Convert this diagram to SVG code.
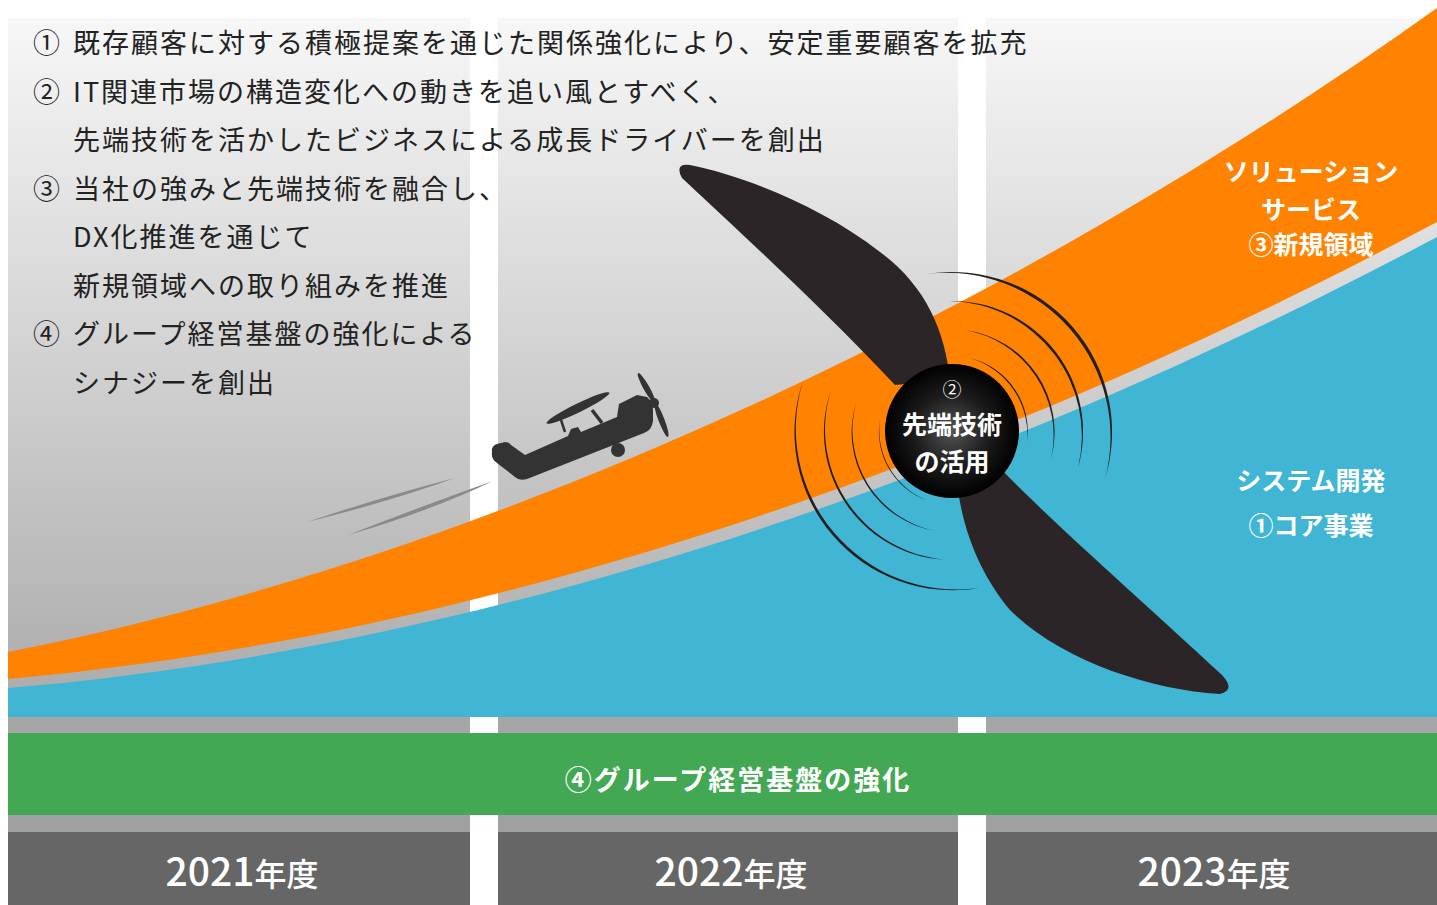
<svg xmlns="http://www.w3.org/2000/svg" width="1437" height="905" viewBox="0 0 1437 905">
  <defs>
    <linearGradient id="bgFade" gradientUnits="userSpaceOnUse" x1="0" y1="18" x2="0" y2="717">
      <stop offset="0" stop-color="#f7f7f7"/>
      <stop offset="1" stop-color="#aaaaaa"/>
    </linearGradient>
    <radialGradient id="hubShade" cx="0.5" cy="0.5" r="0.5">
      <stop offset="0" stop-color="#555555"/>
      <stop offset="0.55" stop-color="#1c1c1c"/>
      <stop offset="1" stop-color="#000000"/>
    </radialGradient>
    <style>
      .col { fill: url(#bgFade); }
      .band1 { fill: #a6a6a6; }
      .band2 { fill: #a0a0a0; }
      .year { fill: #666666; }
      .jp { font-family: "Noto Sans CJK JP", "Noto Sans CJK SC", sans-serif; }
      .lead { font-size: 27px; fill: #222222; letter-spacing: 2px; }
      .num { font-size: 27px; fill: #222222; }
      .label { font-size: 25px; fill: #ffffff; font-weight: 700; text-anchor: middle; }
      .hub { font-size: 25px; fill: #ffffff; font-weight: 700; text-anchor: middle; }
      .yearText { fill: #ffffff; text-anchor: middle; font-weight: 500; }
      .blade { fill: #2c2527; }
      .wave { fill: #231f20; }
      .plane { fill: #333333; }
      .speed { fill: #8a8a8a; }
    </style>
  </defs>

  <rect width="1437" height="905" fill="#ffffff"/>

  <!-- three fiscal-year columns -->
  <g id="columns">
    <rect class="col" x="8" y="18" width="462" height="699"/>
    <rect class="col" x="498" y="18" width="460" height="699"/>
    <rect class="col" x="986" y="18" width="451" height="699"/>
    <rect class="band1" x="8" y="717" width="462" height="16"/>
    <rect class="band1" x="498" y="717" width="460" height="16"/>
    <rect class="band1" x="986" y="717" width="451" height="16"/>
    <rect class="band2" x="8" y="815" width="462" height="17"/>
    <rect class="band2" x="498" y="815" width="460" height="17"/>
    <rect class="band2" x="986" y="815" width="451" height="17"/>
    <rect class="year" x="8" y="832" width="462" height="73"/>
    <rect class="year" x="498" y="832" width="460" height="73"/>
    <rect class="year" x="986" y="832" width="451" height="73"/>
  </g>

  <!-- growth areas -->
  <g id="solution-area">
    <path d="M8,652 C480,560 1000,320 1437,8 L1437,222 C1000,455 500,635 8,679 Z" fill="#ff8200"/>
  </g>
  <g id="core-area">
    <path d="M8,688 C500,647 1000,470 1437,237 L1437,717 L8,717 Z" fill="#40b6d4"/>
  </g>
  <g id="foundation">
    <rect x="8" y="733" width="1429" height="82" fill="#43a853"/>
    <text class="jp" x="738" y="790" font-size="27" fill="#ffffff" font-weight="700" letter-spacing="2" text-anchor="middle">④グループ経営基盤の強化</text>
  </g>

  <!-- strategy list -->
  <g id="strategy-list" class="jp">
    <text class="num" x="33" y="53">①</text>
    <text class="lead" x="73" y="53">既存顧客に対する積極提案を通じた関係強化により、安定重要顧客を拡充</text>
    <text class="num" x="33" y="101.5">②</text>
    <text class="lead" x="73" y="101.5">IT関連市場の構造変化への動きを追い風とすべく、</text>
    <text class="lead" x="73" y="150">先端技術を活かしたビジネスによる成長ドライバーを創出</text>
    <text class="num" x="33" y="198.5">③</text>
    <text class="lead" x="73" y="198.5">当社の強みと先端技術を融合し、</text>
    <text class="lead" x="73" y="247">DX化推進を通じて</text>
    <text class="lead" x="73" y="295.5">新規領域への取り組みを推進</text>
    <text class="num" x="33" y="344">④</text>
    <text class="lead" x="73" y="344">グループ経営基盤の強化による</text>
    <text class="lead" x="73" y="392.5">シナジーを創出</text>
  </g>

  <!-- area labels -->
  <g id="solution-label" class="jp">
    <text class="label" x="1311" y="181">ソリューション</text>
    <text class="label" x="1311" y="219">サービス</text>
    <text class="label" x="1311" y="254">③新規領域</text>
  </g>
  <g id="core-label" class="jp">
    <text class="label" x="1311" y="490">システム開発</text>
    <text class="label" x="1311" y="535">①コア事業</text>
  </g>

  <!-- year labels -->
  <g id="year-labels" class="jp yearText">
    <text x="242" y="886"><tspan font-size="39">2021</tspan><tspan font-size="32">年度</tspan></text>
    <text x="731" y="886"><tspan font-size="39">2022</tspan><tspan font-size="32">年度</tspan></text>
    <text x="1214" y="886"><tspan font-size="39">2023</tspan><tspan font-size="32">年度</tspan></text>
  </g>

  <!-- biplane climbing along the curve -->
  <g id="biplane">
    <path class="speed" d="M307,522 Q385,496 455,478 Q388,502 307,522 Z"/>
    <path class="speed" d="M348,535 Q425,505 493,481 Q428,512 348,535 Z"/>
    <path class="plane" d="M492,452 Q491,446 497,444 L505,442 Q509,442 511,445 L525,455 L568,436 L571,429 L578,427 L581,432 L617,417 L619,404 L637,395 L647,397 Q653,402 653,410 L653,421 Q652,430 644,433 L527,479 Q519,481 515,477 L497,463 Q491,459 492,452 Z"/>
    <ellipse class="plane" cx="578" cy="408" rx="35" ry="4.5" transform="rotate(-26 578 408)"/>
    <line x1="561" y1="420" x2="565" y2="432" stroke="#333333" stroke-width="2.5"/>
    <line x1="592" y1="410" x2="602" y2="423" stroke="#333333" stroke-width="3.5"/>
    <line x1="609" y1="436" x2="617" y2="449" stroke="#333333" stroke-width="3"/>
    <circle class="plane" cx="618" cy="450" r="7"/>
    <ellipse class="plane" cx="646.5" cy="388" rx="3" ry="17" transform="rotate(-29.5 646.5 388)"/>
    <ellipse class="plane" cx="661.5" cy="420" rx="3" ry="18" transform="rotate(-21 661.5 420)"/>
    <circle class="plane" cx="654" cy="403" r="5"/>
  </g>

  <!-- propeller with motion arcs -->
  <g id="propeller">
    <path class="blade" d="M950,380 C945,330 925,285 880,252 C820,205 740,175 690,165 Q674,163 682,178 C735,228 815,300 895,385 Z"/>
    <path class="blade" d="M1000,468 C1050,520 1130,590 1222,675 Q1236,690 1220,694 C1150,690 1060,660 1010,610 C985,580 965,540 958,490 Z"/>
    <g id="motion-arcs">
      <path class="wave" d="M927,274 A160,160 0 0 1 1105,479 A164,164 0 0 0 927,274 Z"/>
      <path class="wave" d="M950,301 A131,131 0 0 1 1078,468 A135,135 0 0 0 950,301 Z"/>
      <path class="wave" d="M965,330 A103,103 0 0 1 1051,459 A107,107 0 0 0 965,330 Z"/>
      <path class="wave" d="M970,358 A76,76 0 0 1 1027,443 A80,80 0 0 0 970,358 Z"/>
      <path class="wave" d="M979,588 A158,158 0 0 1 803,381 A161,161 0 0 0 979,588 Z"/>
      <path class="wave" d="M952,560 A128,128 0 0 1 831,390 A131,131 0 0 0 952,560 Z"/>
      <path class="wave" d="M936,531 A100,100 0 0 1 856,403 A103,103 0 0 0 936,531 Z"/>
      <path class="wave" d="M926,500 A73,73 0 0 1 880,419 A76,76 0 0 0 926,500 Z"/>
    </g>
    <circle cx="952" cy="431" r="67" fill="url(#hubShade)"/>
    <g class="jp">
      <text x="952" y="397" font-size="19" fill="#ffffff" text-anchor="middle">②</text>
      <text class="hub" x="952" y="434">先端技術</text>
      <text class="hub" x="952" y="471">の活用</text>
    </g>
  </g>
</svg>
